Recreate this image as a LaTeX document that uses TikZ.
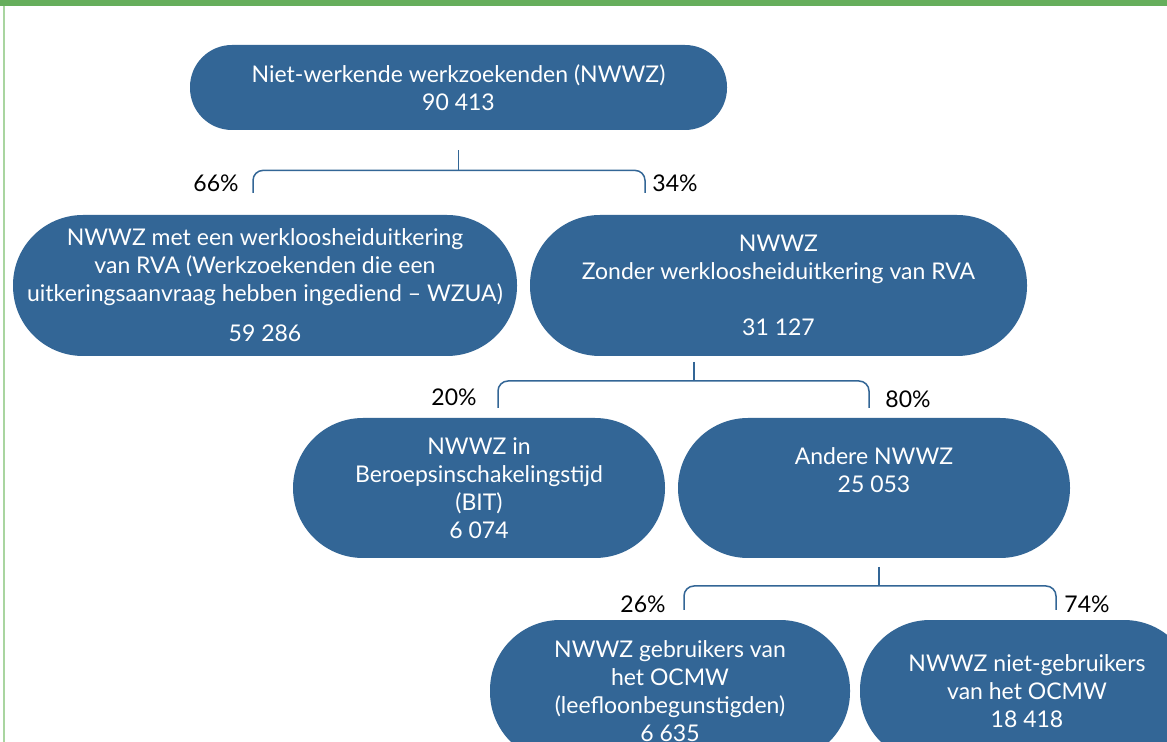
\documentclass[tikz,border=0pt]{standalone}
\usepackage{fontspec}
\setmainfont{Lato}
\usetikzlibrary{positioning,calc}
\definecolor{nwblue}{HTML}{336696}
\definecolor{framegreen}{HTML}{66AE5C}
\definecolor{framelight}{HTML}{A9D5A0}
\tikzset{
  pill/.style={fill=nwblue, text=white, align=center,
               font=\fontsize{11.5}{14}\selectfont, inner sep=0pt},
  brk/.style={draw=nwblue, line width=0.75pt, rounded corners=5pt},
  pct/.style={font=\fontsize{11.5}{14}\selectfont, text=black, inner sep=0pt}
}

\begin{document}
\begin{tikzpicture}[x=0.5pt, y=-0.5pt]
    \clip (0,0) rectangle (1167,742);
    \fill[white] (0,0) rectangle (1167,742);
    % frame
    \fill[framegreen] (0,0) rectangle (1167,6);
    \draw[framelight, line width=0.8pt] (4,6) -- (4,742);

    % boxes
    \node[pill, minimum width=268.5pt, minimum height=42.5pt, rounded corners=21pt] (nwwz) at (458.5,87.5)
      {Niet-werkende werkzoekenden (NWWZ)\\90 413};
    \node[pill, minimum width=252pt, minimum height=70.5pt, rounded corners=35pt] (metrva) at (265,285.5)
      {NWWZ met een werkloosheiduitkering\\van RVA (Werkzoekenden die een\\uitkeringsaanvraag hebben ingediend -- WZUA)\\[6pt]59 286};
    \node[pill, minimum width=248.5pt, minimum height=70.5pt, rounded corners=35pt] (zonrva) at (778.5,285.5)
      {NWWZ\\Zonder werkloosheiduitkering van RVA\\[14pt]31 127};
    \node[pill, minimum width=186pt, minimum height=70pt, rounded corners=35pt] (bit) at (479,488)
      {NWWZ in\\Beroepsinschakelingstijd\\(BIT)\\6 074};
    \node[pill, minimum width=196pt, minimum height=70pt, rounded corners=35pt] (andere) at (874,488)
      {Andere NWWZ\\25 053\\[4pt]};
    \node[pill, minimum width=180pt, minimum height=71pt, rounded corners=35pt] (ocmw) at (670,691)
      {NWWZ gebruikers van\\het OCMW\\(leefloonbegunstigden)\\6 635};
    \node[pill, minimum width=167pt, minimum height=71pt, rounded corners=35pt] (nocmw) at (1027,691)
      {NWWZ niet-gebruikers\\van het OCMW\\18 418};

    % brackets
    \coordinate (s1) at ($(nwwz.south)+(0,20)$);
    \coordinate (j1) at ($(nwwz.south)+(0,40)$);
    \coordinate (l1) at (253,193);
    \coordinate (r1) at (645,193);
    \draw[brk] (s1) -- (j1);
    \draw[brk] (l1) |- (j1) -| (r1);

    \coordinate (s2) at (694,362);
    \coordinate (j2) at (694,381);
    \coordinate (l2) at (498,408);
    \coordinate (r2) at (869,408);
    \draw[brk] (s2) -- (j2);
    \draw[brk] (l2) |- (j2) -| (r2);

    \coordinate (s3) at (879,567);
    \coordinate (j3) at (879,586);
    \coordinate (l3) at (684,610);
    \coordinate (r3) at (1056,610);
    \draw[brk] (s3) -- (j3);
    \draw[brk] (l3) |- (j3) -| (r3);

    % shares
    \node[pct] (p66) at (216,183) {66\%};
    \node[pct] (p34) at (675,183) {34\%};
    \node[pct] (p20) at (454,397) {20\%};
    \node[pct] (p80) at (908,399) {80\%};
    \node[pct] (p26) at (643,604) {26\%};
    \node[pct] (p74) at (1087,604) {74\%};
\end{tikzpicture}
\end{document}
